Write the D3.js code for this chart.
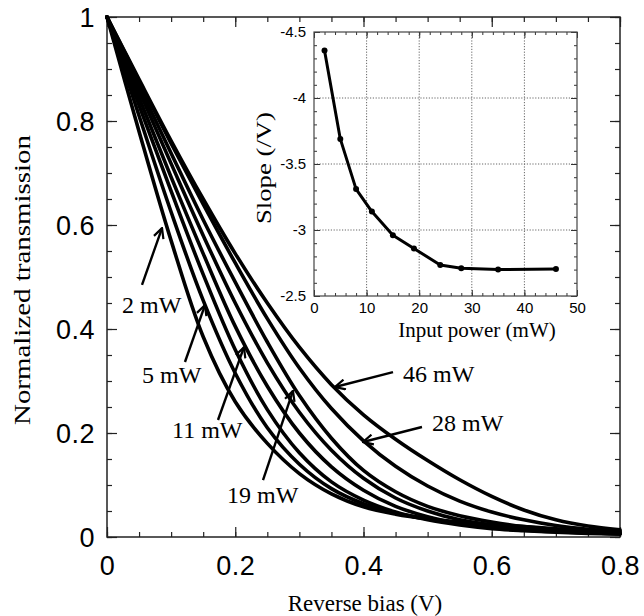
<!DOCTYPE html>
<html><head><meta charset="utf-8">
<script src="https://cdn.jsdelivr.net/npm/d3@7"></script>
<style>
body{margin:0;background:#fff;}
svg{display:block;}
</style>
</head><body>
<svg id="c" width="644" height="616"></svg>
<script>
// ---------- DATA ----------
const biasV = [0,0.05,0.1,0.15,0.2,0.25,0.3,0.35,0.4,0.45,0.5,0.55,0.6,0.65,0.7,0.75,0.8];
const curvePowers = [2,5,8,11,15,19,28,46];
const trans2mW  = [1,.78,.57,.385,.26,.18,.122,.083,.058,.044,.035,.029,.024,.02,.016,.013,.011];
const trans5mW  = [1,.81,.625,.455,.315,.21,.14,.093,.064,.046,.035,.027,.021,.016,.012,.01,.008];
const trans8mW  = [1,.83,.665,.505,.36,.245,.162,.106,.071,.048,.033,.023,.016,.012,.009,.007,.006];
const trans11mW = [1,.845,.692,.545,.405,.29,.2,.135,.09,.059,.039,.026,.018,.013,.01,.008,.006];
const trans15mW = [1,.858,.718,.58,.45,.335,.24,.167,.113,.075,.05,.033,.023,.016,.011,.008,.006];
const trans19mW = [1,.868,.738,.61,.49,.375,.272,.19,.128,.087,.059,.041,.029,.02,.014,.01,.008];
const trans28mW = [1,.877,.757,.64,.527,.42,.325,.247,.185,.136,.098,.069,.048,.033,.022,.015,.011];
const trans46mW = [1,.88,.762,.65,.545,.45,.365,.293,.235,.188,.147,.11,.078,.052,.033,.021,.014];
const allTrans = [trans2mW,trans5mW,trans8mW,trans11mW,trans15mW,trans19mW,trans28mW,trans46mW];

const xTicks = [0,0.2,0.4,0.6,0.8];
const yTicks = [0,0.2,0.4,0.6,0.8,1];

// annotations: label, text anchor (V, T), arrow tail (V, T), arrow tip (V, T)
const annLabels = ["2 mW","5 mW","11 mW","19 mW","46 mW","28 mW"];
const annText = [[0.0234,0.431],[0.0546,0.296],[0.1014,0.190],[0.1871,0.065],[0.4616,0.298],[0.5068,0.204]];
const annTail = [[0.0546,0.485],[0.1216,0.3365],[0.1731,0.225],[0.2433,0.1096],[0.446,0.317],[0.4912,0.2115]];
const annTip  = [[0.0858,0.594],[0.1528,0.446],[0.2136,0.365],[0.290,0.281],[0.3556,0.2885],[0.3992,0.1827]];

// inset
const inPower = [2,5,8,11,15,19,24,28,35,46];
const inSlope = [-4.36,-3.69,-3.31,-3.14,-2.96,-2.86,-2.735,-2.71,-2.70,-2.705];
const inXTicks = [0,10,20,30,40,50];
const inYTicks = [-4.5,-4,-3.5,-3,-2.5];

// ---------- DRAW ----------
const svg = d3.select("#c");
svg.append("rect").attr("width",644).attr("height",616).attr("fill","#fff");

const M = {l:107, r:620, t:17, b:537};
const x = d3.scaleLinear().domain([0,0.8]).range([M.l,M.r]);
const y = d3.scaleLinear().domain([0,1]).range([M.b,M.t]);

const sans = "'Liberation Sans', Arial, Helvetica, sans-serif";
const serif = "'Liberation Serif', 'Times New Roman', Times, serif";

function styleAxis(g, fs){
  g.select(".domain").remove();
  g.selectAll(".tick line").attr("stroke","#222").attr("stroke-width",1.2);
  g.selectAll("text").attr("font-family",sans).attr("font-size",fs).attr("fill","#000")
    .attr("letter-spacing","0.5px");
}

const minorX = d3.range(0,0.8001,0.05);
const minorY = d3.range(0,1.0001,0.05);

// minor ticks
[
  [d3.axisBottom(x).tickValues(minorX), `translate(0,${M.b})`],
  [d3.axisTop(x).tickValues(minorX), `translate(0,${M.t})`],
].forEach(([ax,tr])=>{
  const g = svg.append("g").attr("transform",tr).call(ax.tickSize(-5).tickFormat(""));
  styleAxis(g,10);
});
[
  [d3.axisLeft(y).tickValues(minorY), `translate(${M.l},0)`],
  [d3.axisRight(y).tickValues(minorY), `translate(${M.r},0)`],
].forEach(([ax,tr])=>{
  const g = svg.append("g").attr("transform",tr).call(ax.tickSize(-5).tickFormat(""));
  styleAxis(g,10);
});
// major ticks
const fmt = d => String(+d.toFixed(1));
let gx = svg.append("g").attr("transform",`translate(0,${M.b})`)
  .call(d3.axisBottom(x).tickValues(xTicks).tickSize(-10).tickPadding(19).tickFormat(fmt));
styleAxis(gx,27);
let gy = svg.append("g").attr("transform",`translate(${M.l},0)`)
  .call(d3.axisLeft(y).tickValues(yTicks).tickSize(-10).tickPadding(12).tickFormat(fmt));
styleAxis(gy,27);
gy.selectAll("text").attr("dy","0.36em");
let gx2 = svg.append("g").attr("transform",`translate(0,${M.t})`)
  .call(d3.axisTop(x).tickValues(xTicks).tickSize(-10).tickFormat(""));
styleAxis(gx2,10);
let gy2 = svg.append("g").attr("transform",`translate(${M.r},0)`)
  .call(d3.axisRight(y).tickValues(yTicks).tickSize(-10).tickFormat(""));
styleAxis(gy2,10);

svg.append("rect").attr("x",M.l).attr("y",M.t).attr("width",M.r-M.l).attr("height",M.b-M.t)
  .attr("fill","none").attr("stroke","#222").attr("stroke-width",1.5);

// titles
svg.append("text").attr("x",365).attr("y",611).attr("text-anchor","middle")
  .attr("font-family",serif).attr("font-size",23).text("Reverse bias (V)");
svg.append("text").attr("transform","translate(30,280) rotate(-90)").attr("text-anchor","middle")
  .attr("font-family",serif).attr("font-size",24).attr("textLength",290).attr("lengthAdjust","spacingAndGlyphs")
  .text("Normalized transmission");

// curves
const line = d3.line().x((d,i)=>x(biasV[i])).y(d=>y(d)).curve(d3.curveCatmullRom.alpha(0.5));
svg.append("g").selectAll("path").data(allTrans).join("path")
  .attr("d",line).attr("fill","none").attr("stroke","#000").attr("stroke-width",3.6)
  .attr("stroke-linejoin","round").attr("stroke-linecap","round");

// arrows
const defs = svg.append("defs");
defs.append("marker").attr("id","ah").attr("viewBox","0 0 12 12").attr("refX",11).attr("refY",6)
  .attr("markerWidth",12).attr("markerHeight",12).attr("markerUnits","userSpaceOnUse").attr("orient","auto")
  .append("path").attr("d","M1,1 L11,6 L1,11").attr("fill","none").attr("stroke","#000").attr("stroke-width",2.2);
const ag = svg.append("g");
annLabels.forEach((lab,i)=>{
  ag.append("line").attr("x1",x(annTail[i][0])).attr("y1",y(annTail[i][1]))
    .attr("x2",x(annTip[i][0])).attr("y2",y(annTip[i][1]))
    .attr("stroke","#000").attr("stroke-width",2.4).attr("marker-end","url(#ah)");
  ag.append("text").attr("x",x(annText[i][0])).attr("y",y(annText[i][1]))
    .attr("font-family",serif).attr("font-size",24).text(lab);
});

// ---------- INSET ----------
const I = {l:314, r:577, t:32, b:296};
const ix = d3.scaleLinear().domain([0,50]).range([I.l,I.r]);
const iy = d3.scaleLinear().domain([-4.5,-2.5]).range([I.t,I.b]);
const ig = svg.append("g");
ig.append("rect").attr("x",I.l).attr("y",I.t).attr("width",I.r-I.l).attr("height",I.b-I.t).attr("fill","#fff");
// grid
ig.append("g").selectAll("line").data(inXTicks.slice(1,-1)).join("line")
  .attr("x1",d=>ix(d)).attr("x2",d=>ix(d)).attr("y1",I.t).attr("y2",I.b)
  .attr("stroke","#666").attr("stroke-width",1).attr("stroke-dasharray","1.2,1.6");
ig.append("g").selectAll("line").data(inYTicks.slice(1,-1)).join("line")
  .attr("y1",d=>iy(d)).attr("y2",d=>iy(d)).attr("x1",I.l).attr("x2",I.r)
  .attr("stroke","#666").attr("stroke-width",1).attr("stroke-dasharray","1.2,1.6");
const inMinX = d3.range(0,50.001,2);
const inMinY = d3.range(-4.5,-2.4999,0.1);
function iAxis(ax, tr, size, fmtf, pad){
  const g = ig.append("g").attr("transform",tr).call(ax.tickSize(size).tickPadding(pad||6).tickFormat(fmtf));
  g.select(".domain").remove();
  g.selectAll(".tick line").attr("stroke","#333").attr("stroke-width",1);
  g.selectAll("text").attr("font-family",sans).attr("font-size",15).attr("fill","#000");
  return g;
}
iAxis(d3.axisBottom(ix).tickValues(inMinX), `translate(0,${I.b})`, -3, "");
iAxis(d3.axisTop(ix).tickValues(inMinX), `translate(0,${I.t})`, -3, "");
iAxis(d3.axisLeft(iy).tickValues(inMinY), `translate(${I.l},0)`, -3, "");
iAxis(d3.axisRight(iy).tickValues(inMinY), `translate(${I.r},0)`, -3, "");
iAxis(d3.axisBottom(ix).tickValues(inXTicks), `translate(0,${I.b})`, -6, d3.format("d"), 6);
iAxis(d3.axisLeft(iy).tickValues(inYTicks), `translate(${I.l},0)`, -6, d=>String(d), 8);
iAxis(d3.axisTop(ix).tickValues(inXTicks), `translate(0,${I.t})`, -6, "");
iAxis(d3.axisRight(iy).tickValues(inYTicks), `translate(${I.r},0)`, -6, "");
ig.append("rect").attr("x",I.l).attr("y",I.t).attr("width",I.r-I.l).attr("height",I.b-I.t)
  .attr("fill","none").attr("stroke","#444").attr("stroke-width",1.2);
ig.append("path").datum(inSlope)
  .attr("d",d3.line().x((d,i)=>ix(inPower[i])).y(d=>iy(d)))
  .attr("fill","none").attr("stroke","#000").attr("stroke-width",3).attr("stroke-linejoin","round");
ig.append("g").selectAll("circle").data(inSlope).join("circle")
  .attr("cx",(d,i)=>ix(inPower[i])).attr("cy",d=>iy(d)).attr("r",3).attr("fill","#000");
ig.append("text").attr("x",477).attr("y",337).attr("text-anchor","middle")
  .attr("font-family",serif).attr("font-size",21).text("Input power (mW)");
ig.append("text").attr("transform","translate(271,168) rotate(-90)").attr("text-anchor","middle")
  .attr("font-family",serif).attr("font-size",20).attr("textLength",112).attr("lengthAdjust","spacingAndGlyphs")
  .text("Slope (/V)");
</script>
</body></html>
